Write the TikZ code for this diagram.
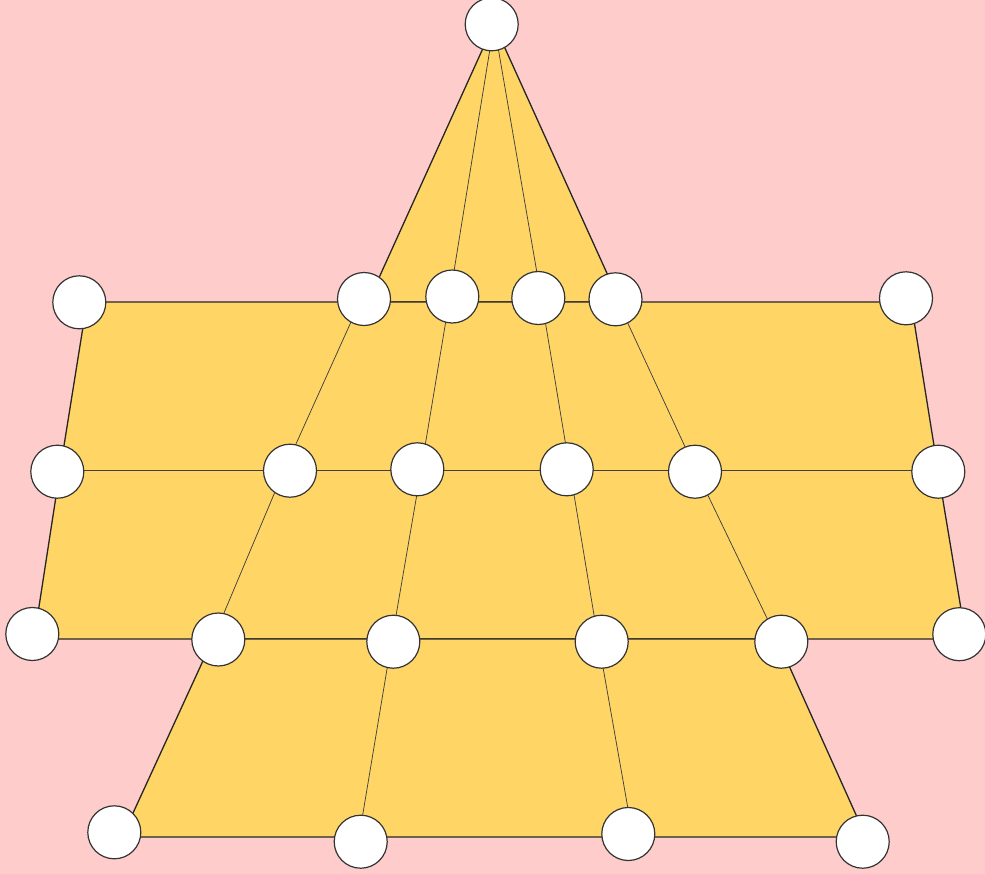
\documentclass[tikz,border=0pt]{standalone}
\begin{document}
\begin{tikzpicture}[x=1bp,y=-1bp]
\definecolor{bgpink}{RGB}{255,204,204}
\definecolor{fillyel}{RGB}{255,214,102}
\tikzset{
 boundary/.style={draw=black!85, line width=1.3bp, fill=fillyel, line join=round},
 inner/.style={draw=black!75, line width=0.75bp},
 vtx/.style={circle, draw=black!80, line width=1.2bp, fill=white, minimum size=53bp, inner sep=0pt},
}
\fill[bgpink] (0,0) rectangle (985,874);
\useasboundingbox (0,0) rectangle (985,874);
% grid points
\coordinate (ap) at (494,24);
\coordinate (t1) at (368,302);
\coordinate (t2) at (449,302);
\coordinate (t3) at (542,302);
\coordinate (t4) at (620,302);
\coordinate (a0) at (87,302);
\coordinate (a1) at (360,302);
\coordinate (a4) at (618,302);
\coordinate (a5) at (911,302);
\coordinate (b0) at (60,470.5);
\coordinate (b1) at (284,470.5);
\coordinate (b2) at (421,470.5);
\coordinate (b3) at (570,470.5);
\coordinate (b4) at (696,470.5);
\coordinate (b5) at (938,470.5);
\coordinate (c0) at (34,639);
\coordinate (c1) at (213,639);
\coordinate (c2) at (392,639);
\coordinate (c3) at (598,639);
\coordinate (c4) at (777,639);
\coordinate (c5) at (966,639);
\coordinate (d0) at (122,837);
\coordinate (d1) at (359,837);
\coordinate (d2) at (633,837);
\coordinate (d3) at (866,837);
% faces
\path[boundary] (ap) -- (t1) -- (t4) -- cycle;
\path[boundary] (a0) -- (a5) -- (b5) -- (c5) -- (c0) -- (b0) -- cycle;
\path[boundary] (c1) -- (c4) -- (d3) -- (d0) -- cycle;
% inner lines
\draw[inner] (b0) -- (b5);
\draw[inner] (a1) -- (b1) -- (c1);
\draw[inner] (ap) -- (t2) -- (b2) -- (c2) -- (d1);
\draw[inner] (ap) -- (t3) -- (b3) -- (c3) -- (d2);
\draw[inner] (a4) -- (b4) -- (c4);
% vertices
\node[vtx] (n0) at (491.7,24.3) {};
\node[vtx] (r0a) at (79.3,302.3) {};
\node[vtx] (r0b) at (364,299) {};
\node[vtx] (r0c) at (452.3,296.5) {};
\node[vtx] (r0d) at (538.3,298) {};
\node[vtx] (r0e) at (615.5,299.3) {};
\node[vtx] (r0f) at (906,298.3) {};
\node[vtx] (r1a) at (57.3,471.7) {};
\node[vtx] (r1b) at (290,470.7) {};
\node[vtx] (r1c) at (417.3,469.3) {};
\node[vtx] (r1d) at (566.7,469.3) {};
\node[vtx] (r1e) at (695,471.7) {};
\node[vtx] (r1f) at (938.3,471.7) {};
\node[vtx] (r2a) at (32.3,634) {};
\node[vtx] (r2b) at (218.3,639.5) {};
\node[vtx] (r2c) at (393.3,641.7) {};
\node[vtx] (r2d) at (601.7,641.7) {};
\node[vtx] (r2e) at (781.3,641.7) {};
\node[vtx] (r2f) at (959.3,634.2) {};
\node[vtx] (r3a) at (114.3,832.3) {};
\node[vtx] (r3b) at (360.7,841.7) {};
\node[vtx] (r3c) at (628.3,834) {};
\node[vtx] (r3d) at (862.7,841.7) {};
\end{tikzpicture}
\end{document}
